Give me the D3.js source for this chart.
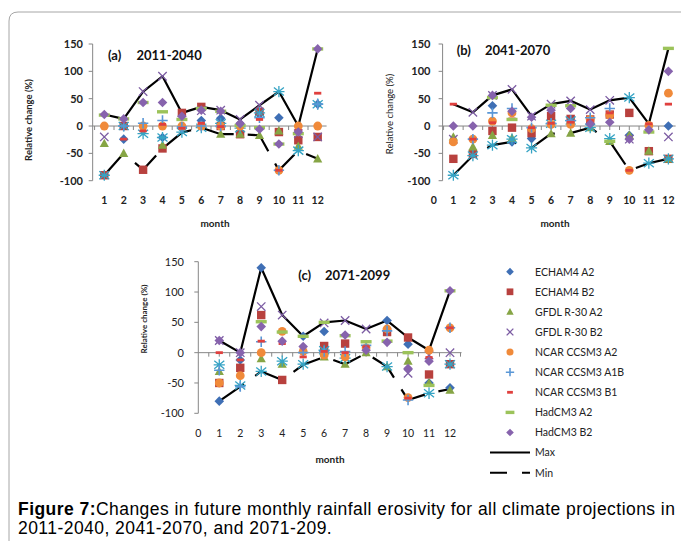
<!DOCTYPE html>
<html>
<head>
<meta charset="utf-8">
<script src="https://cdn.jsdelivr.net/npm/d3@7"></script>
<style>
  body { margin: 0; background: #fff; }
  svg { display: block; }
</style>
</head>
<body>
<svg id="chart" width="681" height="541"></svg>
<script>
// ---- data (relative change %) ----
const months = [1, 2, 3, 4, 5, 6, 7, 8, 9, 10, 11, 12];
const seriesNames = ["ECHAM4 A2", "ECHAM4 B2", "GFDL R-30 A2", "GFDL R-30 B2", "",
  "NCAR CCSM3 A2", "NCAR CCSM3 A1B", "NCAR CCSM3 B1", "HadCM3 A2", "HadCM3 B2"];
const yTicks = [-100, -50, 0, 50, 100, 150];

// (a) 2011-2040
const aEchamA2 = [-90, -24, null, -21, -2, 10, 14, 1, 21, 15, null, 40];
const aEchamB2 = [-90, 0, -80, -41, 24, 35, 0, -15, 26, -11, -26, -20];
const aGfdlA2  = [-32, -50, null, -35, null, null, -15, -15, -17, -9, -37, -60];
const aGfdlB2  = [-20, null, 63, 91, null, 28, 29, 12, 38, null, -14, -20];
const aStar    = [-90, 0, -14, -21, -11, -3, 5, -4, 24, 63, -45, 40];
const aNcarA2  = [0, null, 0, 0, 0, 0, 0, 0, null, -81, 0, 0];
const aNcarA1B = [null, 0, 5, 10, -2, 0, 0, null, 15, -81, null, 40];
const aNcarB1  = [null, -24, -9, 3, -4, 5, -1, 2, 12, -81, -8, 60];
const aHadA2   = [20, 13, 43, 26, 12, 32, 27, 1, -3, -33, -14, 141];
const aHadB2   = [21, 13, 43, 43, 18, 29, 27, 4, -6, -33, -11, 141];
const aMax     = [21, 13, 63, 91, 24, 35, 29, 12, 38, 63, 0, 141];
const aMin     = [-90, -50, -80, -41, -12, -3, -15, -15, -17, -81, -45, -60];

// (b) 2041-2070
const bEchamA2 = [null, null, 37, -29, -23, null, null, null, null, -17, null, 0];
const bEchamB2 = [-60, -51, -9, -3, -13, 18, 13, 12, 21, 24, -46, -60];
const bGfdlA2  = [-20, -38, -17, -22, null, -14, -13, -3, -28, -17, -46, -60];
const bGfdlB2  = [-24, 25, 56, 67, 18, 40, 46, 30, 47, -24, null, -20];
const bStar    = [-90, -54, -35, -24, -40, 4, 10, -3, -23, 52, -68, -60];
const bNcarA2  = [-29, -24, 9, 24, -5, 3, 3, 12, 20, -81, 1, 60];
const bNcarA1B = [null, -24, 24, 32, -3, 5, 10, 15, 32, null, null, null];
const bNcarB1  = [40, -24, 6, 13, -3, 5, 7, 10, 24, -81, 4, 40];
const bHadA2   = [null, null, 52, 12, null, 38, 37, null, -28, null, -11, 142];
const bHadB2   = [0, 0, 56, 27, 16, 29, 32, 4, 7, -24, -7, 100];
const bMax     = [40, 25, 56, 67, 18, 40, 46, 30, 47, 52, 4, 142];
const bMin     = [-90, -54, -35, -29, -40, -14, -13, -3, -28, -81, -68, -60];

// (c) 2071-2099
const cEchamA2 = [-80, -12, 140, null, 27, 35, null, null, 53, 14, -50, -58];
const cEchamB2 = [-50, -25, 62, -45, null, 11, 15, null, 34, 25, -36, -19];
const cGfdlA2  = [-31, null, -10, -19, null, -7, -19, 0, -23, -14, -50, -62];
const cGfdlB2  = [20, 0, 76, 62, null, 49, 53, 39, null, -34, -4, 0];
const cStar    = [-20, -54, -31, -14, -19, 4, -9, null, -23, null, -67, -19];
const cNcarA2  = [-50, -38, 0, 35, 2, -4, -7, 8, 39, -74, 4, 41];
const cNcarA1B = [-29, -56, 18, null, 0, 2, 2, 12, 36, -78, null, 41];
const cNcarB1  = [0, -12, 19, 15, -7, 2, 0, 10, null, -75, -8, 41];
const cHadA2   = [null, null, 51, 34, 27, 50, 28, 18, 19, 0, -54, 102];
const cHadB2   = [20, 0, 43, 19, 10, null, 29, 4, 17, -26, -14, 102];
const cMax     = [20, 0, 140, 62, 27, 50, 53, 39, 53, 25, 4, 102];
const cMin     = [-80, -56, -31, -45, -20, -7, -19, -1, -23, -78, -67, -60];

// ---- styles ----
const shapes = ["diamond", "square", "triangle", "x", "star", "circle", "plus", "dashS", "dashL", "diamond"];
const colors = ["#3f6fb5", "#b8413e", "#86a545", "#7c5ca3", "#35a3c4", "#f08a3a", "#5a97d6", "#e0403e", "#9cc35a", "#8763ad"];

const svg = d3.select("#chart");
const FONT = "Lato, 'Open Sans', sans-serif";

// figure frame
svg.append("path")
  .attr("d", "M9,541 V21 Q9,12 18,12 H700")
  .attr("fill", "none").attr("stroke", "#a6a6a6").attr("stroke-width", 1);

function marker(g, shape, color, k) {
  k = k || 1;
  const s = (v) => v * k;
  if (shape === "diamond") {
    g.append("path").attr("d", `M0,${-s(4.8)}L${s(4.8)},0L0,${s(4.8)}L${-s(4.8)},0Z`).attr("fill", color);
  } else if (shape === "square") {
    g.append("rect").attr("x", -s(4.2)).attr("y", -s(4.2)).attr("width", s(8.4)).attr("height", s(8.4)).attr("fill", color);
  } else if (shape === "triangle") {
    g.append("path").attr("d", `M0,${-s(4.8)}L${s(4.6)},${s(3.6)}L${-s(4.6)},${s(3.6)}Z`).attr("fill", color);
  } else if (shape === "x") {
    g.append("path").attr("d", `M${-s(4.2)},${-s(4.2)}L${s(4.2)},${s(4.2)}M${-s(4.2)},${s(4.2)}L${s(4.2)},${-s(4.2)}`)
      .attr("stroke", color).attr("stroke-width", 1.3).attr("fill", "none");
  } else if (shape === "star") {
    g.append("path").attr("d", `M0,${-s(5.6)}V${s(5.6)}M${-s(5)},${-s(4)}L${s(5)},${s(4)}M${-s(5)},${s(4)}L${s(5)},${-s(4)}M${-s(5.6)},0H${s(5.6)}`)
      .attr("stroke", color).attr("stroke-width", 1.3).attr("fill", "none");
  } else if (shape === "circle") {
    g.append("circle").attr("r", s(4.4)).attr("fill", color);
  } else if (shape === "plus") {
    g.append("path").attr("d", `M${-s(5.2)},0H${s(5.2)}M0,${-s(5.2)}V${s(5.2)}`)
      .attr("stroke", color).attr("stroke-width", 1.6).attr("fill", "none");
  } else if (shape === "dashS") {
    g.append("rect").attr("x", -s(3.6)).attr("y", -1.4).attr("width", s(7.2)).attr("height", 2.8).attr("fill", color);
  } else if (shape === "dashL") {
    g.append("rect").attr("x", -s(5.5)).attr("y", -1.7).attr("width", s(11)).attr("height", 3.4).attr("fill", color);
  }
}

const panels = [
  { label: "(a)", period: "2011-2040",
    series: [aEchamA2, aEchamB2, aGfdlA2, aGfdlB2, aStar, aNcarA2, aNcarA1B, aNcarB1, aHadA2, aHadB2],
    max: aMax, min: aMin,
    xr: [84.9, 317.7], axisX: [0.4, 12.46], yr: [180.7, 44], zeroLabel: false, bold: true,
    yTickX: 83, xLabY: 204, monthX: 215, monthY: 227,
    yTitleX: 32, yTitleY: 120, yTitleSize: 9.5, titleBold: true,
    tx: 108, ty: 59.5, tx2: 136.5 },
  { label: "(b)", period: "2041-2070",
    series: [bEchamA2, bEchamB2, bGfdlA2, bGfdlB2, bStar, bNcarA2, bNcarA1B, bNcarB1, bHadA2, bHadB2],
    max: bMax, min: bMin,
    xr: [433.8, 668.4], axisX: [0.45, 12.37], yr: [180.7, 44], zeroLabel: true, bold: true,
    yTickX: 430.5, xLabY: 204, monthX: 555, monthY: 227,
    yTitleX: 393, yTitleY: 114, yTitleSize: 9.5, titleBold: false,
    tx: 456.7, ty: 54.5, tx2: 485 },
  { label: "(c)", period: "2071-2099",
    series: [cEchamA2, cEchamB2, cGfdlA2, cGfdlB2, cStar, cNcarA2, cNcarA1B, cNcarB1, cHadA2, cHadB2],
    max: cMax, min: cMin,
    xr: [198.3, 450], axisX: [0, 12.55], yr: [413.3, 261.7], zeroLabel: true, bold: false,
    yTickX: 184, xLabY: 437, monthX: 330, monthY: 463,
    yTitleX: 147, yTitleY: 319, yTitleSize: 8, titleBold: true,
    tx: 298.3, ty: 279.5, tx2: 325 }
];

panels.forEach(p => {
  const x = d3.scaleLinear().domain([0, 12]).range(p.xr);
  const y = d3.scaleLinear().domain([-100, 150]).range(p.yr);
  const g = svg.append("g");
  const axisColor = "#868686";
  const wt = p.bold ? "bold" : "normal";

  // y axis
  g.append("line")
    .attr("x1", x(p.axisX[0])).attr("x2", x(p.axisX[0]))
    .attr("y1", y(150)).attr("y2", y(-100))
    .attr("stroke", axisColor);
  yTicks.forEach(t => {
    g.append("line")
      .attr("x1", x(p.axisX[0]) - 4).attr("x2", x(p.axisX[0]))
      .attr("y1", y(t)).attr("y2", y(t)).attr("stroke", axisColor);
    g.append("text")
      .attr("x", p.yTickX).attr("y", y(t) + 4)
      .attr("text-anchor", "end")
      .style("font-family", FONT).style("font-size", "11px").style("font-weight", wt)
      .attr("fill", "#222")
      .text(t);
  });

  // x axis along zero line
  g.append("line")
    .attr("x1", x(p.axisX[0])).attr("x2", x(p.axisX[1]))
    .attr("y1", y(0)).attr("y2", y(0))
    .attr("stroke", axisColor);
  d3.range(0, 12.6, 0.5).filter(t => t > p.axisX[0] + 0.01 && t <= p.axisX[1]).forEach(t => {
    g.append("line")
      .attr("x1", x(t)).attr("x2", x(t))
      .attr("y1", y(0)).attr("y2", y(0) + 4)
      .attr("stroke", axisColor);
  });
  const xLabels = p.zeroLabel ? [0].concat(months) : months;
  xLabels.forEach(m => {
    g.append("text")
      .attr("x", x(m)).attr("y", p.xLabY)
      .attr("text-anchor", "middle")
      .style("font-family", FONT).style("font-size", "10.5px").style("font-weight", wt)
      .attr("fill", "#222")
      .text(m);
  });

  g.append("text")
    .attr("x", p.monthX).attr("y", p.monthY)
    .attr("text-anchor", "middle")
    .style("font-family", FONT).style("font-size", "10px").style("font-weight", "bold")
    .attr("fill", "#222")
    .text("month");

  g.append("text")
    .attr("transform", `translate(${p.yTitleX},${p.yTitleY}) rotate(-90)`)
    .attr("text-anchor", "middle")
    .style("font-family", FONT).style("font-size", p.yTitleSize + "px")
    .style("font-weight", p.titleBold ? "bold" : "normal")
    .attr("fill", "#222")
    .text("Relative change (%)");

  // panel title
  g.append("text").attr("x", p.tx).attr("y", p.ty)
    .style("font-family", FONT).style("font-size", "13px").style("font-weight", "bold")
    .attr("fill", "#111").text(p.label);
  g.append("text").attr("x", p.tx2).attr("y", p.ty)
    .style("font-family", FONT).style("font-size", "13px").style("font-weight", "bold")
    .attr("fill", "#111").text(p.period);

  // max / min lines
  const line = d3.line().x((d, i) => x(months[i])).y(d => y(d));
  g.append("path").datum(p.max)
    .attr("d", line).attr("fill", "none")
    .attr("stroke", "#000").attr("stroke-width", 2.2).attr("stroke-linejoin", "round");
  g.append("path").datum(p.min)
    .attr("d", line).attr("fill", "none")
    .attr("stroke", "#000").attr("stroke-width", 2.2)
    .attr("stroke-dasharray", "30,14");

  // markers
  p.series.forEach((vals, si) => {
    vals.forEach((v, i) => {
      if (v === null) return;
      const mg = g.append("g").attr("transform", `translate(${x(months[i])},${y(v)})`);
      marker(mg, shapes[si], colors[si]);
    });
  });
});

// legend
const lg = svg.append("g");
let row = 0;
seriesNames.forEach((name, si) => {
  if (!name) return;
  const cy = 271.7 + row * 20.1;
  const mg = lg.append("g").attr("transform", `translate(510,${cy})`);
  marker(mg, shapes[si], colors[si], 0.8);
  lg.append("text").attr("x", 535).attr("y", cy + 3.8)
    .style("font-family", FONT).style("font-size", "10.5px")
    .attr("fill", "#222").text(name);
  row++;
});
const maxY = 271.7 + row * 20.1;
lg.append("line").attr("x1", 490).attr("x2", 530).attr("y1", maxY).attr("y2", maxY)
  .attr("stroke", "#000").attr("stroke-width", 2);
lg.append("text").attr("x", 535).attr("y", maxY + 3.8)
  .style("font-family", FONT).style("font-size", "10.5px").attr("fill", "#222").text("Max");
const minY = maxY + 20.1;
lg.append("line").attr("x1", 490).attr("x2", 530).attr("y1", minY).attr("y2", minY)
  .attr("stroke", "#000").attr("stroke-width", 2).attr("stroke-dasharray", "17,15");
lg.append("text").attr("x", 535).attr("y", minY + 3.8)
  .style("font-family", FONT).style("font-size", "10.5px").attr("fill", "#222").text("Min");

// caption
const capFont = "'Liberation Sans', Arial, sans-serif";
const cap = svg.append("text").attr("x", 18).attr("y", 514.5)
  .style("font-family", capFont).style("font-size", "17.5px").style("letter-spacing", "0.45px")
  .attr("fill", "#000");
cap.append("tspan").style("font-weight", "bold").text("Figure 7:");
cap.append("tspan").text("Changes in future monthly rainfall erosivity for all climate projections in");
svg.append("text").attr("x", 18).attr("y", 534)
  .style("font-family", capFont).style("font-size", "17.5px").style("letter-spacing", "0.45px")
  .attr("fill", "#000")
  .text("2011-2040, 2041-2070, and 2071-209.");
</script>
</body>
</html>
